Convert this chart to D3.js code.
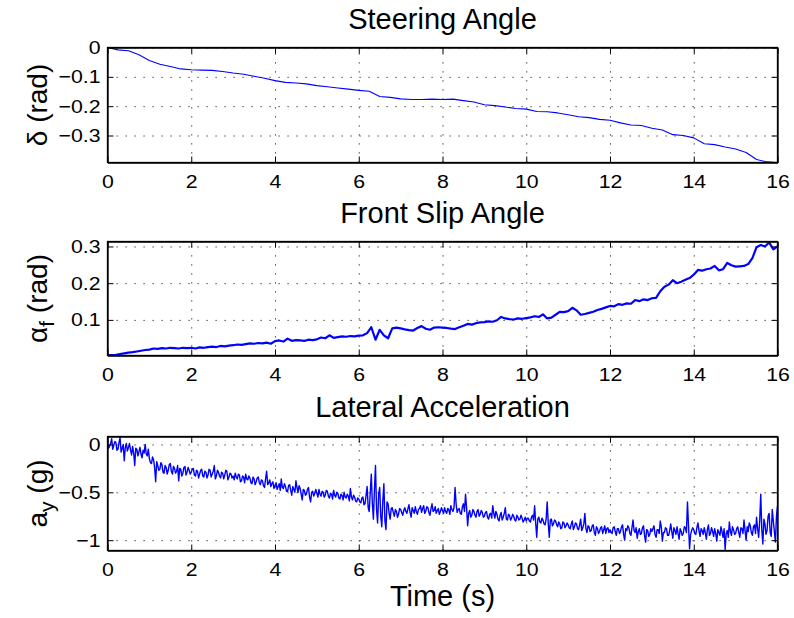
<!DOCTYPE html>
<html>
<head>
<meta charset="utf-8">
<script src="https://cdn.jsdelivr.net/npm/d3@7"></script>
<style>
  html, body { margin: 0; padding: 0; background: #fff; }
  svg { display: block; font-family: "Liberation Sans", Arial, Helvetica, sans-serif; }
</style>
</head>
<body>
<svg id="chart" width="794" height="618"></svg>
<script>
// ---------------- data ----------------
const xTicks = [0, 2, 4, 6, 8, 10, 12, 14, 16];

// Steering angle (rad), sampled every 0.25 s from 0 to 16 s
const steerStep = 0.25;
const steerValues = [
  0, -0.008, -0.011, -0.025, -0.044, -0.057, -0.065, -0.073,
  -0.076, -0.077, -0.078, -0.082, -0.087, -0.091, -0.098, -0.105,
  -0.113, -0.119, -0.121, -0.124, -0.130, -0.134, -0.138, -0.142,
  -0.146, -0.149, -0.167, -0.170, -0.175, -0.177, -0.177, -0.176,
  -0.177, -0.176, -0.181, -0.186, -0.195, -0.198, -0.203, -0.208,
  -0.210, -0.218, -0.219, -0.223, -0.229, -0.236, -0.239, -0.245,
  -0.248, -0.257, -0.264, -0.266, -0.275, -0.281, -0.297, -0.300,
  -0.308, -0.328, -0.331, -0.339, -0.346, -0.358, -0.382, -0.390,
  -0.392
];
const steerTicks = [0, -0.1, -0.2, -0.3];

// Front slip angle (rad), sampled every 0.1 s
const slipStep = 0.1;
const slipValues = [
  0.004, 0.004, 0.005, 0.007, 0.009, 0.011, 0.012, 0.014, 0.016, 0.018,
  0.019, 0.022, 0.021, 0.023, 0.022, 0.024, 0.023, 0.022, 0.024, 0.023,
  0.024, 0.022, 0.025, 0.024, 0.026, 0.027, 0.026, 0.029, 0.028, 0.030,
  0.031, 0.033, 0.032, 0.034, 0.036, 0.035, 0.037, 0.036, 0.038, 0.035,
  0.042, 0.044, 0.041, 0.049, 0.043, 0.045, 0.044, 0.043, 0.046, 0.045,
  0.047, 0.052, 0.050, 0.058, 0.051, 0.053, 0.055, 0.054, 0.056, 0.055,
  0.057, 0.058, 0.064, 0.080, 0.046, 0.073, 0.058, 0.050, 0.077, 0.079,
  0.077, 0.074, 0.072, 0.071, 0.078, 0.083, 0.076, 0.073, 0.079, 0.080,
  0.079, 0.078, 0.076, 0.075, 0.080, 0.084, 0.089, 0.087, 0.091, 0.093,
  0.094, 0.096, 0.095, 0.099, 0.108, 0.104, 0.102, 0.101, 0.104, 0.103,
  0.105, 0.107, 0.110, 0.108, 0.115, 0.104, 0.106, 0.114, 0.122, 0.121,
  0.124, 0.133, 0.126, 0.114, 0.116, 0.119, 0.122, 0.127, 0.130, 0.134,
  0.138, 0.137, 0.143, 0.141, 0.145, 0.144, 0.154, 0.151, 0.156, 0.154,
  0.159, 0.160, 0.178, 0.190, 0.196, 0.208, 0.200, 0.204, 0.209, 0.214,
  0.223, 0.236, 0.234, 0.238, 0.240, 0.247, 0.235, 0.238, 0.255, 0.249,
  0.245, 0.246, 0.247, 0.252, 0.268, 0.298, 0.304, 0.300, 0.311, 0.292,
  0.300
];
const slipTicks = [0.1, 0.2, 0.3];

// Lateral acceleration (g), sampled every 0.025 s (one row per second)
const accStep = 0.025;
const accValues = [
  0.03,-0.04, -0.02,0.01, 0.06,-0.05, -0.01,0.03, 0.02,-0.06, -0.05,0.02, 0.07,-0.08, -0.04,0.00, -0.17,-0.03, 0.01,-0.07, -0.03,0.01, -0.06,-0.11, -0.02,-0.09, -0.22,-0.04, -0.05,-0.12, -0.08,-0.03, -0.10,-0.14, -0.06,-0.09, 0.00,-0.10, -0.12,-0.05,
  -0.15,-0.19, -0.20,-0.13, -0.16,-0.24, -0.39,-0.18, -0.22,-0.27, -0.26,-0.19, -0.21,-0.29, -0.30,-0.22, -0.24,-0.31, -0.27,-0.21, -0.20,-0.28, -0.31,-0.23, -0.25,-0.30, -0.28,-0.22, -0.38,-0.25, -0.26,-0.33, -0.30,-0.24, -0.23,-0.32, -0.29,-0.24, -0.27,-0.31,
  -0.29,-0.26, -0.25,-0.32, -0.33,-0.27, -0.28,-0.35, -0.31,-0.27, -0.26,-0.33, -0.34,-0.28, -0.29,-0.35, -0.32,-0.26, -0.27,-0.34, -0.31,-0.28, -0.22,-0.36, -0.33,-0.27, -0.29,-0.33, -0.35,-0.29, -0.30,-0.36, -0.32,-0.27, -0.28,-0.37, -0.34,-0.30, -0.31,-0.35,
  -0.33,-0.37, -0.30,-0.34, -0.36,-0.31, -0.32,-0.39, -0.38,-0.33, -0.34,-0.40, -0.31,-0.36, -0.37,-0.33, -0.35,-0.40, -0.41,-0.34, -0.36,-0.42, -0.39,-0.35, -0.34,-0.40, -0.42,-0.37, -0.38,-0.43, -0.45,-0.36, -0.28,-0.42, -0.40,-0.37, -0.44,-0.41, -0.39,-0.46,
  -0.43,-0.40, -0.47,-0.44, -0.41,-0.48, -0.36,-0.45, -0.46,-0.41, -0.44,-0.49, -0.49,-0.43, -0.42,-0.48, -0.53,-0.44, -0.47,-0.50, -0.38,-0.45, -0.50,-0.43, -0.46,-0.52, -0.58,-0.47, -0.48,-0.53, -0.52,-0.47, -0.45,-0.55, -0.60,-0.50, -0.49,-0.54, -0.51,-0.47,
  -0.51,-0.55, -0.47,-0.52, -0.54,-0.49, -0.50,-0.55, -0.53,-0.48, -0.49,-0.54, -0.56,-0.51, -0.52,-0.57, -0.48,-0.53, -0.55,-0.50, -0.51,-0.56, -0.57,-0.52, -0.53,-0.58, -0.50,-0.55, -0.56,-0.52, -0.54,-0.59, -0.46,-0.55, -0.58,-0.53, -0.55,-0.59, -0.60,-0.56,
  -0.57,-0.60, -0.61,-0.56, -0.55,-0.63, -0.62,-0.53, -0.44,-0.66, -0.70,-0.50, -0.31,-0.62, -0.78,-0.47, -0.22,-0.68, -0.82,-0.52, -0.45,-0.75, -0.86,-0.58, -0.41,-0.80, -0.89,-0.60, -0.62,-0.72, -0.78,-0.67, -0.66,-0.71, -0.75,-0.68, -0.70,-0.76, -0.73,-0.67,
  -0.68,-0.71, -0.74,-0.69, -0.66,-0.70, -0.72,-0.67, -0.63,-0.71, -0.76,-0.66, -0.69,-0.72, -0.65,-0.70, -0.73,-0.68, -0.67,-0.64, -0.71,-0.67, -0.64,-0.72, -0.70,-0.65, -0.66,-0.71, -0.74,-0.67, -0.62,-0.70, -0.69,-0.65, -0.72,-0.69, -0.67,-0.73, -0.70,-0.66,
  -0.69,-0.72, -0.66,-0.70, -0.72,-0.67, -0.68,-0.73, -0.64,-0.68, -0.70,-0.66, -0.45,-0.62, -0.71,-0.68, -0.67,-0.72, -0.73,-0.65, -0.62,-0.70, -0.52,-0.66, -0.85,-0.72, -0.69,-0.76, -0.74,-0.68, -0.70,-0.74, -0.76,-0.70, -0.68,-0.75, -0.73,-0.69, -0.71,-0.76,
  -0.75,-0.71, -0.70,-0.76, -0.78,-0.73, -0.72,-0.77, -0.64,-0.72, -0.77,-0.70, -0.73,-0.78, -0.80,-0.74, -0.71,-0.79, -0.76,-0.72, -0.66,-0.78, -0.79,-0.73, -0.74,-0.79, -0.77,-0.73, -0.75,-0.79, -0.80,-0.74, -0.76,-0.79, -0.78,-0.74, -0.77,-0.81, -0.79,-0.76,
  -0.80,-0.77, -0.77,-0.80, -0.81,-0.76, -0.74,-0.79, -0.64,-0.82, -0.97,-0.78, -0.76,-0.81, -0.82,-0.77, -0.79,-0.83, -0.84,-0.78, -0.60,-0.82, -0.97,-0.79, -0.78,-0.85, -0.83,-0.79, -0.80,-0.84, -0.86,-0.81, -0.83,-0.88, -0.87,-0.81, -0.82,-0.87, -0.85,-0.82,
  -0.84,-0.87, -0.88,-0.83, -0.80,-0.89, -0.86,-0.82, -0.83,-0.88, -0.89,-0.84, -0.78,-0.90, -0.87,-0.83, -0.72,-0.88, -0.92,-0.85, -0.86,-0.91, -0.90,-0.85, -0.84,-0.92, -0.95,-0.86, -0.88,-0.93, -0.91,-0.87, -0.86,-0.93, -0.89,-0.85, -0.93,-0.88, -0.87,-0.92,
  -0.89,-0.92, -0.93,-0.87, -0.86,-0.91, -0.95,-0.88, -0.88,-0.93, -0.91,-0.86, -0.84,-0.94, -1.00,-0.88, -0.90,-0.85, -0.87,-0.93, -0.95,-0.87, -0.79,-0.90, -0.92,-0.87, -0.98,-0.91, -0.88,-0.94, -0.93,-0.87, -0.85,-0.95, -1.02,-0.89, -0.90,-0.96, -0.94,-0.88,
  -0.91,-0.88, -0.85,-0.94, -0.97,-0.89, -0.89,-0.93, -0.80,-0.86, -1.01,-0.92, -0.92,-0.87, -0.88,-0.95, -0.95,-0.90, -0.83,-0.91, -0.98,-0.87, -0.90,-0.94, -0.86,-0.93, -0.99,-0.88, -0.91,-0.95, -0.93,-0.86, -0.87,-0.92, -0.60,-0.85, -1.09,-0.94, -0.90,-0.87,
  -0.89,-0.93, -0.94,-0.87, -0.82,-0.90, -0.96,-0.88, -0.90,-0.94, -0.87,-0.92, -0.99,-0.89, -0.84,-0.95, -0.93,-0.87, -0.91,-0.96, -0.88,-0.93, -1.01,-0.89, -0.92,-0.95, -0.86,-0.91, -0.97,-0.88, -1.10,-0.93, -0.90,-0.97, -0.81,-0.91, -0.95,-0.86, -0.89,-0.94,
  -0.93,-0.88, -0.86,-0.92, -0.97,-0.87, -0.88,-0.93, -0.79,-0.90, -1.00,-0.86, -0.91,-0.82, -0.85,-0.92, -0.95,-0.86, -0.84,-0.93, -0.76,-0.88, -0.97,-0.80, -0.52,-0.89, -1.04,-0.78, -0.83,-0.94, -0.90,-0.75, -0.72,-0.92, -0.96,-0.68, -0.80,-0.91, -1.02,-0.75,
  -0.64
];
const accTicks = [0, -0.5, -1];

const titles = ["Steering Angle", "Front Slip Angle", "Lateral Acceleration"];
const xLabel = "Time (s)";

// ---------------- layout ----------------
const svg = d3.select("#chart");
const left = 107.5, right = 777.5;
const x = d3.scaleLinear().domain([0, 16]).range([left, right]);
const tickStretch = 1.15;

const panels = [
  { title: titles[0], values: steerValues, step: steerStep, ticks: steerTicks,
    domain: [-0.392, 0], top: 47.5, bottom: 162.5, width: 1.1, titleGap: 19,
    label: [{t: "δ (rad)"}] },
  { title: titles[1], values: slipValues, step: slipStep, ticks: slipTicks,
    domain: [0.003, 0.3135], top: 241.5, bottom: 355.5, width: 2.2, titleGap: 18.5,
    label: [{t: "α"}, {t: "f", sub: true}, {t: " (rad)"}] },
  { title: titles[2], values: accValues, step: accStep, ticks: accTicks,
    domain: [-1.108, 0.083], top: 436.5, bottom: 550.5, width: 1.4, titleGap: 19.5,
    label: [{t: "a"}, {t: "y", sub: true}, {t: " (g)"}] }
];

const fmt = d3.format("~g");

panels.forEach((p, i) => {
  const y = d3.scaleLinear().domain(p.domain).range([p.bottom, p.top]);
  const g = svg.append("g");
  const h = p.bottom - p.top, w = right - left;

  // grid
  const gridX = g.append("g").attr("transform", `translate(0,${p.bottom})`)
    .call(d3.axisBottom(x).tickValues(xTicks.slice(1, -1)).tickSize(-h).tickFormat(""));
  const gridY = g.append("g").attr("transform", `translate(${left},0)`)
    .call(d3.axisLeft(y).tickValues(p.ticks).tickSize(-w).tickFormat(""));
  [gridX, gridY].forEach(gr => {
    gr.select(".domain").remove();
    gr.selectAll("line").attr("stroke", "#222").attr("stroke-width", 1)
      .attr("stroke-dasharray", "1.2,7.8");
  });

  // clip
  const cid = "clip" + i;
  svg.append("clipPath").attr("id", cid).append("rect")
    .attr("x", left).attr("y", p.top).attr("width", w).attr("height", h);

  // line
  const line = d3.line()
    .x((d, k) => x(k * p.step))
    .y(d => y(d));
  g.append("path").datum(p.values)
    .attr("clip-path", `url(#${cid})`)
    .attr("fill", "none").attr("stroke", "#0000ff")
    .attr("stroke-width", p.width).attr("stroke-linejoin", "round")
    .attr("d", line);

  // axes (ticks inside)
  const ax = g.append("g").attr("transform", `translate(0,${p.bottom})`)
    .call(d3.axisBottom(x).tickValues(xTicks).tickSizeInner(-6).tickSizeOuter(0).tickPadding(12).tickFormat(fmt));
  const axT = g.append("g").attr("transform", `translate(0,${p.top})`)
    .call(d3.axisTop(x).tickValues(xTicks).tickSizeInner(-6).tickSizeOuter(0).tickFormat(""));
  const ay = g.append("g").attr("transform", `translate(${left},0)`)
    .call(d3.axisLeft(y).tickValues(p.ticks).tickSizeInner(-6).tickSizeOuter(0).tickPadding(7).tickFormat(fmt));
  const ayR = g.append("g").attr("transform", `translate(${right},0)`)
    .call(d3.axisRight(y).tickValues(p.ticks).tickSizeInner(-6).tickSizeOuter(0).tickFormat(""));
  [ax, axT, ay, ayR].forEach(a => {
    a.attr("font-family", null).attr("font-size", null);
    a.select(".domain").attr("stroke", "#000").attr("stroke-width", 1.3);
    a.selectAll(".tick line").attr("stroke", "#000").attr("stroke-width", 1);
    a.selectAll("text").attr("fill", "#000").style("font-size", "18.5px")
      .attr("transform", `scale(${tickStretch},1)`);
  });
  ay.selectAll("text").attr("x", -7 / tickStretch);

  // box
  g.append("rect").attr("x", left).attr("y", p.top).attr("width", w).attr("height", h)
    .attr("fill", "none").attr("stroke", "#000").attr("stroke-width", 1.3);

  // title
  g.append("text").attr("x", (left + right) / 2).attr("y", p.top - p.titleGap)
    .attr("text-anchor", "middle").style("font-size", "29px").text(p.title);

  // y label
  const lab = g.append("text")
    .attr("transform", `translate(47,${(p.top + p.bottom) / 2}) rotate(-90)`)
    .attr("text-anchor", "middle").style("font-size", "28px");
  p.label.forEach(part => {
    const ts = lab.append("tspan").text(part.t);
    if (part.sub) ts.attr("dy", "0.33em").style("font-size", "21px");
    else if (lab.selectAll("tspan").size() > 1 && part.t.startsWith(" ")) ts.attr("dy", "-0.25em");
  });
});

// x label
svg.append("text").attr("x", (left + right) / 2).attr("y", 606)
  .attr("text-anchor", "middle").style("font-size", "29px").text(xLabel);
</script>
</body>
</html>
